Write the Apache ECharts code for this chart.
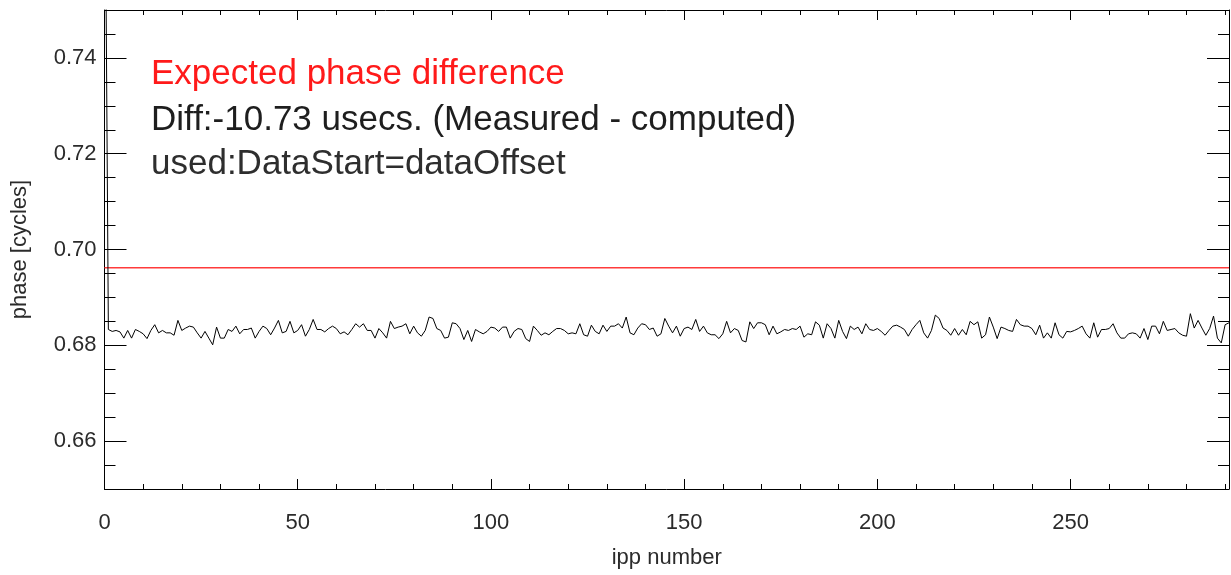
<!DOCTYPE html>
<html>
<head>
<meta charset="utf-8">
<script src="https://cdn.jsdelivr.net/npm/echarts@6/dist/echarts.min.js"></script>
<style>
html,body{margin:0;padding:0;background:#fff;}
#c{width:1231px;height:575px;}
</style>
</head>
<body>
<div id="c"></div>
<script>
// ---- data ----
var xRange = [0, 291];
var yRange = [0.65, 0.75];
var xMajorStep = 50;
var xMinorStep = 10;
var yMajorTicks = [0.66, 0.68, 0.70, 0.72, 0.74];
var yMinorStep = 0.005;
var expectedPhase = 0.6962;

var phaseA = [0.80,0.6833,0.6829,0.6831,0.6828,0.6815,0.6831,0.6815,0.6833,0.6829,
  0.6824,0.6814,0.6831,0.6843,0.6826,0.6831,0.6826,0.6826,0.6821,0.6852,
  0.6831,0.6836,0.6840,0.6838,0.6826,0.6815,0.6829,0.6815,0.6801,0.6838,
  0.6815,0.6815,0.6833,0.6829,0.6840,0.6824,0.6833,0.6833,0.6836,0.6815,
  0.6829,0.6840,0.6835,0.6822,0.6836,0.6852,0.6826,0.6829,0.6850,0.6826,
  0.6831,0.6843,0.6819,0.6833,0.6854,0.6833,0.6833,0.6828,0.6835];
var phaseB = [0.6840,0.6835,0.6824,0.6828,0.6822,0.6833,0.6845,0.6838,0.6845,0.6831,
  0.6831,0.6815,0.6835,0.6826,0.6815,0.6850,0.6835,0.6838,0.6840,0.6845,
  0.6824,0.6840,0.6826,0.6819,0.6831,0.6859,0.6856,0.6835,0.6831,0.6815,
  0.6817,0.6847,0.6845,0.6835,0.6812,0.6831,0.6808,0.6833,0.6828,0.6824,
  0.6829,0.6838,0.6836,0.6829,0.6838,0.6838,0.6815,0.6829,0.6835,0.6833,
  0.6814,0.6808,0.6840,0.6831,0.6821,0.6826,0.6822,0.6829,0.6835];
var phaseC = [0.6835,0.6831,0.6824,0.6826,0.6824,0.6845,0.6822,0.6819,0.6842,0.6829,
  0.6824,0.6842,0.6829,0.6840,0.6840,0.6845,0.6836,0.6859,0.6826,0.6822,
  0.6836,0.6845,0.6843,0.6833,0.6836,0.6819,0.6824,0.6856,0.6840,0.6826,
  0.6840,0.6819,0.6835,0.6838,0.6833,0.6854,0.6829,0.6840,0.6826,0.6822,
  0.6822,0.6814,0.6824,0.6850,0.6826,0.6835,0.6831,0.6810,0.6807,0.6849,
  0.6835,0.6847,0.6847,0.6843,0.6822,0.6840,0.6824,0.6828];
var phaseD = [0.6833,0.6831,0.6835,0.6833,0.6840,0.6817,0.6824,0.6822,0.6849,0.6842,
  0.6815,0.6845,0.6835,0.6815,0.6852,0.6829,0.6814,0.6840,0.6833,0.6838,
  0.6824,0.6845,0.6833,0.6831,0.6835,0.6829,0.6821,0.6831,0.6840,0.6842,
  0.6838,0.6833,0.6819,0.6833,0.6843,0.6852,0.6826,0.6815,0.6831,0.6863,
  0.6856,0.6836,0.6831,0.6821,0.6835,0.6821,0.6833,0.6822,0.6850,0.6843,
  0.6849,0.6815,0.6822,0.6859,0.6838,0.6814,0.6838,0.6835];
var phaseE = [0.6831,0.6829,0.6854,0.6843,0.6840,0.6840,0.6835,0.6822,0.6842,0.6815,
  0.6826,0.6815,0.6847,0.6822,0.6815,0.6829,0.6828,0.6831,0.6835,0.6840,
  0.6824,0.6815,0.6847,0.6817,0.6833,0.6833,0.6835,0.6845,0.6826,0.6815,
  0.6815,0.6824,0.6826,0.6824,0.6815,0.6835,0.6812,0.6840,0.6840,0.6824,
  0.6850,0.6831,0.6833,0.6835,0.6826,0.6821,0.6819,0.6866,0.6836,0.6852,
  0.6836,0.6821,0.6835,0.6861,0.6815,0.6805,0.6843,0.6847];

var textLines = ["Expected phase difference",
  "Diff:-10.73 usecs. (Measured - computed)",
  "used:DataStart=dataOffset"];
var xName = "ipp number";
var yName = "phase [cycles]";

// ---- build ----
var phase = phaseA.concat(phaseB, phaseC, phaseD, phaseE);
var seriesData = phase.map(function (v, i) { return [i, v]; });
var expectedData = [[xRange[0], expectedPhase], [xRange[1], expectedPhase]];

var FONT = "'Liberation Sans', Arial, Helvetica, sans-serif";
var axisCol = '#000';
var labCol = '#2b2b2b';

function xAx(pos, interval, len, labels, line, extra) {
  var a = {
    type: 'value', position: pos, min: xRange[0], max: xRange[1], interval: interval,
    gridIndex: 0,
    axisLine: { show: line, onZero: false, lineStyle: { color: axisCol, width: 1 } },
    axisTick: { show: true, inside: true, length: len, lineStyle: { color: axisCol, width: 1 } },
    axisLabel: { show: labels, showMaxLabel: false, margin: 23, fontSize: 22, color: labCol, fontFamily: FONT },
    splitLine: { show: false }
  };
  for (var k in extra) a[k] = extra[k];
  return a;
}
function yAx(pos, major, len, labels, line, extra) {
  var a = {
    type: 'value', position: pos, min: yRange[0], max: yRange[1],
    gridIndex: 0,
    axisLine: { show: line, onZero: false, lineStyle: { color: axisCol, width: 1 } },
    axisTick: { show: true, inside: true, length: len, lineStyle: { color: axisCol, width: 1 } },
    axisLabel: { show: labels, margin: 8, fontSize: 22, color: labCol, fontFamily: FONT,
      formatter: function (v) { return (+v).toFixed(2); } },
    splitLine: { show: false }
  };
  if (major) {
    a.axisTick.customValues = yMajorTicks;
    a.axisLabel.customValues = yMajorTicks;
  } else {
    a.interval = yMinorStep;
  }
  for (var k in extra) a[k] = extra[k];
  return a;
}

var chart = echarts.init(document.getElementById('c'), null, { renderer: 'canvas' });
chart.setOption({
  animation: false,
  backgroundColor: '#fff',
  grid: { left: 104.5, right: 2, top: 10, bottom: 86, containLabel: false },
  xAxis: [
    xAx('bottom', xMajorStep, 10, true, true, {
      name: xName, nameLocation: 'middle', nameGap: 58,
      nameTextStyle: { fontSize: 22, color: labCol, fontFamily: FONT }
    }),
    xAx('bottom', xMinorStep, 5, false, false, {}),
    xAx('top', xMajorStep, 10, false, true, {}),
    xAx('top', xMinorStep, 5, false, false, {})
  ],
  yAxis: [
    yAx('left', true, 22, true, true, {
      name: yName, nameLocation: 'middle', nameGap: 74, nameRotate: 90,
      nameTextStyle: { fontSize: 22, color: labCol, fontFamily: FONT }
    }),
    yAx('left', false, 11, false, false, {}),
    yAx('right', true, 22, false, true, {}),
    yAx('right', false, 11, false, false, {})
  ],
  series: [{
    type: 'line',
    name: 'expected',
    xAxisIndex: 0, yAxisIndex: 0,
    data: expectedData,
    showSymbol: false,
    symbol: 'none',
    lineStyle: { color: '#ff3b3b', width: 1.4 }
  }, {
    type: 'line',
    name: 'measured',
    xAxisIndex: 0, yAxisIndex: 0,
    data: seriesData,
    showSymbol: false,
    symbol: 'none',
    clip: true,
    lineStyle: { color: '#000', width: 1 }
  }],
  graphic: [
    { type: 'text', left: 151, top: 57, style: { text: textLines[0], fill: '#ff1a1a', fontSize: 35, fontFamily: FONT } },
    { type: 'text', left: 151, top: 103, style: { text: textLines[1], fill: '#1e1e1e', fontSize: 35, fontFamily: FONT } },
    { type: 'text', left: 151, top: 147, style: { text: textLines[2], fill: '#2e2e2e', fontSize: 35, fontFamily: FONT } }
  ]
});
</script>
</body>
</html>
